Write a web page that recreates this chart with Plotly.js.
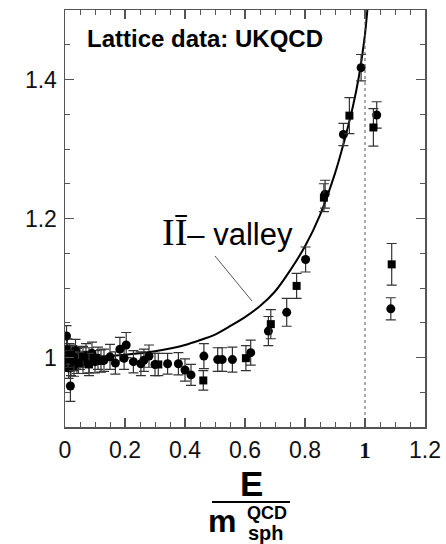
<!DOCTYPE html>
<html>
<head>
<meta charset="utf-8">
<script src="https://cdn.plot.ly/plotly-3.0.1.min.js"></script>
<style>
  html, body { margin: 0; padding: 0; background: #fff; }
  #chart { width: 446px; height: 544px; }
</style>
</head>
<body>
<div id="chart"></div>
<script>
// UKQCD lattice points (circles): energy E / m_sph, ratio, error
const circleE = [0.005, 0.008, 0.010, 0.012, 0.015, 0.018, 0.020, 0.025, 0.030, 0.035, 0.040, 0.050,
  0.060, 0.070, 0.080, 0.090, 0.100, 0.110, 0.130, 0.150, 0.168, 0.183, 0.197, 0.204, 0.228, 0.253,
  0.263, 0.280, 0.300, 0.342, 0.378, 0.400, 0.420, 0.463, 0.509, 0.524, 0.558, 0.619, 0.678, 0.739,
  0.802, 0.867, 0.928, 0.987, 1.039, 1.086];
const circleRatio = [1.031, 1.012, 0.995, 0.985, 1.005, 0.959, 0.992, 1.002, 0.988, 1.010, 0.995, 0.999,
  0.993, 1.003, 0.996, 1.006, 0.994, 0.999, 0.996, 1.001, 0.992, 1.012, 0.999, 1.018, 0.994, 0.991,
  0.996, 1.002, 0.990, 0.991, 0.991, 0.982, 0.975, 1.002, 0.997, 0.997, 0.997, 1.007, 1.038, 1.065,
  1.141, 1.235, 1.321, 1.417, 1.349, 1.070];
const circleErr = [0.015, 0.015, 0.015, 0.015, 0.015, 0.022, 0.018, 0.015, 0.015, 0.016, 0.018, 0.016,
  0.016, 0.017, 0.018, 0.016, 0.016, 0.016, 0.016, 0.018, 0.016, 0.017, 0.016, 0.018, 0.016, 0.017,
  0.016, 0.016, 0.016, 0.015, 0.016, 0.016, 0.015, 0.018, 0.017, 0.017, 0.018, 0.018, 0.021, 0.020,
  0.018, 0.020, 0.016, 0.019, 0.019, 0.016];

// UKQCD lattice points (squares)
const squareE = [0.010, 0.020, 0.030, 0.045, 0.060, 0.080, 0.120, 0.311, 0.461, 0.603, 0.686, 0.772,
  0.863, 0.948, 1.028, 1.089];
const squareRatio = [0.998, 1.004, 0.995, 0.992, 1.001, 0.990, 0.995, 0.990, 0.967, 0.999, 1.048, 1.103,
  1.230, 1.348, 1.331, 1.134];
const squareErr = [0.012, 0.014, 0.014, 0.015, 0.015, 0.016, 0.016, 0.016, 0.014, 0.018, 0.021, 0.018,
  0.020, 0.026, 0.027, 0.030];

// Instanton–anti-instanton valley curve
const valleyE = [0, 0.1, 0.2, 0.3, 0.4, 0.5, 0.55, 0.6, 0.65, 0.7, 0.75, 0.8, 0.85, 0.9, 0.93, 0.96,
  0.98, 1.0, 1.01, 1.02];
const valleyRatio = [1.000, 1.001, 1.004, 1.009, 1.018, 1.033, 1.045, 1.058, 1.074, 1.095, 1.125, 1.160,
  1.205, 1.265, 1.310, 1.362, 1.405, 1.465, 1.510, 1.560];

const xTickVals = [0, 0.2, 0.4, 0.6, 0.8, 1, 1.2];
const xTickText = ['0', '0.2', '0.4', '0.6', '0.8',
  '<b><span style="font-family:\'Liberation Serif\', serif">1</span></b>', '1.2'];
const yTickVals = [1, 1.2, 1.4];
const yTickText = ['1', '1.2', '1.4'];

// plot frame in pixels
const FL = 65, FR = 425, FT = 10, FB = 427;
const px = v => (v - FL) / (FR - FL);
const py = v => (FB - v) / (FB - FT);

const sans = "'Liberation Sans', Arial, sans-serif";

const errStyle = { type: 'data', visible: true, thickness: 1.2, width: 5, color: '#333' };

const traces = [
  {
    x: valleyE, y: valleyRatio, type: 'scatter', mode: 'lines',
    line: { color: '#000', width: 2, shape: 'spline', smoothing: 0.6 },
    hoverinfo: 'skip', showlegend: false
  },
  {
    x: circleE, y: circleRatio, type: 'scatter', mode: 'markers',
    marker: { symbol: 'circle', size: 9, color: '#000' },
    error_y: Object.assign({ array: circleErr }, errStyle),
    showlegend: false
  },
  {
    x: squareE, y: squareRatio, type: 'scatter', mode: 'markers',
    marker: { symbol: 'square', size: 8, color: '#000' },
    error_y: Object.assign({ array: squareErr }, errStyle),
    showlegend: false
  }
];

const axisCommon = {
  showline: true, linecolor: '#555', linewidth: 1.5, mirror: 'ticks',
  ticks: 'inside', ticklen: 9, tickwidth: 1.2, tickcolor: '#555',
  showgrid: false, zeroline: false,
  tickfont: { family: sans, size: 23, color: '#111' },
  minor: { ticks: 'inside', ticklen: 5, tickwidth: 1, tickcolor: '#555', dtick: 0.05, showgrid: false }
};

const layout = {
  width: 446, height: 544,
  margin: { l: FL, r: 446 - FR, t: FT, b: 544 - FB },
  paper_bgcolor: '#fff', plot_bgcolor: '#fff',
  showlegend: false,
  xaxis: Object.assign({}, axisCommon, {
    range: [0, 1.2], tickmode: 'array', tickvals: xTickVals, ticktext: xTickText, ticklabelstandoff: 2
  }),
  yaxis: Object.assign({}, axisCommon, {
    range: [0.9, 1.5], tickmode: 'array', tickvals: yTickVals, ticktext: yTickText, ticklabelstandoff: 2
  }),
  shapes: [
    // sphaleron energy marker
    { type: 'line', xref: 'x', yref: 'paper', x0: 1, x1: 1, y0: 0, y1: 1,
      line: { color: '#555', width: 1, dash: 'dot' } },
    // leader from the valley label to the curve
    { type: 'line', xref: 'paper', yref: 'paper', x0: px(215), y0: py(256), x1: px(252), y1: py(301),
      line: { color: '#555', width: 1 } },
    // fraction bar of the axis label
    { type: 'line', xref: 'paper', yref: 'paper', x0: px(212), y0: py(502), x1: px(290), y1: py(502),
      line: { color: '#000', width: 2.2 } }
  ],
  annotations: [
    { text: '<b>Lattice data: UKQCD</b>', xref: 'paper', yref: 'paper', x: px(85), y: py(38),
      xanchor: 'left', yanchor: 'middle', showarrow: false,
      font: { family: sans, size: 24, color: '#000' } },
    { text: '<span style="font-family:' + "'Liberation Serif'" + ';font-size:38px">IĪ</span>– valley',
      xref: 'paper', yref: 'paper', x: px(160), y: py(232), xanchor: 'left', yanchor: 'middle',
      showarrow: false, font: { family: sans, size: 31, color: '#000' } },
    { text: '<b>E</b>', xref: 'paper', yref: 'paper', x: px(251), y: py(483),
      xanchor: 'center', yanchor: 'middle', showarrow: false,
      font: { family: sans, size: 35, color: '#000' } },
    { text: '<b>m</b>', xref: 'paper', yref: 'paper', x: px(222), y: py(521),
      xanchor: 'center', yanchor: 'middle', showarrow: false,
      font: { family: sans, size: 32, color: '#000' } },
    { text: '<b>QCD</b>', xref: 'paper', yref: 'paper', x: px(267), y: py(513),
      xanchor: 'center', yanchor: 'middle', showarrow: false,
      font: { family: sans, size: 18, color: '#000' } },
    { text: '<b>sph</b>', xref: 'paper', yref: 'paper', x: px(266), y: py(533),
      xanchor: 'center', yanchor: 'middle', showarrow: false,
      font: { family: sans, size: 20, color: '#000' } }
  ]
};

Plotly.newPlot('chart', traces, layout, { displayModeBar: false, staticPlot: true });
</script>
</body>
</html>
